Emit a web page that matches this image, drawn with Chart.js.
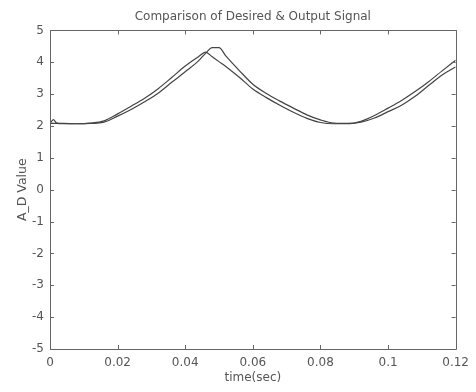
<!DOCTYPE html>
<html>
<head>
<meta charset="utf-8">
<script src="https://cdn.jsdelivr.net/npm/chart.js@4/dist/chart.umd.min.js"></script>
<style>
html,body{margin:0;padding:0;background:#fff;}
canvas{display:block;}
</style>
</head>
<body>
<canvas id="c" width="476" height="392"></canvas>
<script>
// ---- data ----
const time = [0, 0.001, 0.002, 0.004, 0.008, 0.012, 0.016, 0.020, 0.024, 0.028, 0.032, 0.036, 0.040, 0.044, 0.046, 0.048, 0.050, 0.052, 0.056, 0.060, 0.064, 0.068, 0.072, 0.076, 0.080, 0.084, 0.088, 0.092, 0.096, 0.100, 0.104, 0.108, 0.112, 0.116, 0.120];
const desired = [2.08, 2.08, 2.08, 2.07, 2.07, 2.09, 2.16, 2.38, 2.62, 2.87, 3.17, 3.52, 3.88, 4.18, 4.32, 4.17, 4.02, 3.87, 3.53, 3.16, 2.89, 2.65, 2.43, 2.24, 2.11, 2.07, 2.07, 2.15, 2.33, 2.56, 2.8, 3.08, 3.39, 3.73, 4.06];
const output = [2.08, 2.2, 2.09, 2.08, 2.07, 2.08, 2.12, 2.31, 2.52, 2.76, 3.03, 3.37, 3.7, 4.05, 4.28, 4.46, 4.46, 4.2, 3.74, 3.31, 3.02, 2.78, 2.56, 2.35, 2.19, 2.09, 2.08, 2.12, 2.25, 2.45, 2.65, 2.93, 3.27, 3.6, 3.85];
const xTickLabels = ['0', '0.02', '0.04', '0.06', '0.08', '0.1', '0.12'];
const yTickLabels = ['-5', '-4', '-3', '-2', '-1', '0', '1', '2', '3', '4', '5'];
const titleText = 'Comparison of Desired & Output Signal';
const xTitle = 'time(sec)';
const yTitle = 'A_D Value';

const FONT = 'DejaVu Sans';
const AXIS = '#666';
const TEXT = '#555';

const frame = {
  id: 'frame',
  afterDraw(chart) {
    const {ctx, chartArea: a, scales} = chart;
    const L = 4;
    ctx.save();
    ctx.strokeStyle = AXIS;
    ctx.lineWidth = 1;
    ctx.beginPath();
    ctx.rect(Math.round(a.left) + 0.5, Math.round(a.top) + 0.5, Math.round(a.right - a.left), Math.round(a.bottom - a.top));
    scales.x.ticks.forEach(t => {
      const x = Math.round(scales.x.getPixelForValue(t.value)) + 0.5;
      ctx.moveTo(x, a.bottom); ctx.lineTo(x, a.bottom - L);
      ctx.moveTo(x, a.top); ctx.lineTo(x, a.top + L);
    });
    scales.y.ticks.forEach(t => {
      const y = Math.round(scales.y.getPixelForValue(t.value)) + 0.5;
      ctx.moveTo(a.left, y); ctx.lineTo(a.left + L, y);
      ctx.moveTo(a.right, y); ctx.lineTo(a.right - L, y);
    });
    ctx.stroke();
    ctx.restore();
  }
};

new Chart(document.getElementById('c'), {
  type: 'line',
  data: {
    datasets: [
      { label: 'Desired', data: time.map((t, i) => ({x: t, y: desired[i]})), borderColor: '#444', borderWidth: 1.2, pointRadius: 0, cubicInterpolationMode: 'monotone', fill: false },
      { label: 'Output', data: time.map((t, i) => ({x: t, y: output[i]})), borderColor: '#444', borderWidth: 1.2, pointRadius: 0, cubicInterpolationMode: 'monotone', fill: false }
    ]
  },
  options: {
    responsive: false,
    animation: false,
    devicePixelRatio: 1,
    layout: { padding: { left: 0, right: 17, top: 0, bottom: 0 } },
    plugins: {
      legend: { display: false },
      tooltip: { enabled: false },
      title: { display: true, fullSize: false, text: titleText, color: TEXT, font: { family: FONT, size: 12, weight: 'normal' }, padding: { top: 10, bottom: 6 } }
    },
    scales: {
      x: {
        type: 'linear', min: 0, max: 0.12,
        afterFit: s => { s.height = 43; },
        grid: { display: false, drawTicks: false },
        border: { display: false },
        ticks: { stepSize: 0.02, padding: 7, color: TEXT, font: { family: FONT, size: 12 }, maxRotation: 0, autoSkip: false,
          callback: (v, i) => xTickLabels[i] },
        title: { display: true, text: xTitle, color: TEXT, font: { family: FONT, size: 12 }, padding: { top: 0, bottom: 7 } }
      },
      y: {
        type: 'linear', min: -5, max: 5,
        afterFit: s => { s.width = 50; },
        grid: { display: false, drawTicks: false },
        border: { display: false },
        ticks: { stepSize: 1, padding: 6, color: TEXT, font: { family: FONT, size: 12 },
          callback: (v, i) => yTickLabels[i] },
        title: { display: true, text: yTitle, color: TEXT, font: { family: FONT, size: 12.5 }, padding: { top: 15, bottom: 0 } }
      }
    }
  },
  plugins: [frame]
});
</script>
</body>
</html>
